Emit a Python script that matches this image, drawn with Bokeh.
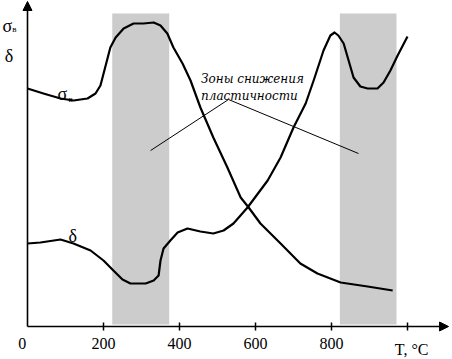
from bokeh.plotting import figure
from bokeh.models import Range1d, Arrow, NormalHead
from bokeh.core.properties import value
from bokeh.embed import file_html
from bokeh.resources import INLINE

# --- data (temperature in °C, properties in relative units) ---
temp_sigma = [0, 42, 87, 121, 158, 179, 192, 205, 218, 232, 253, 279, 305, 332, 350,
              368, 384, 408, 429, 455, 489, 526, 561, 582, 613, 666, 718, 763, 824, 895, 961]
sigma_b = [238, 233, 228, 226, 228, 233, 241, 260, 279, 289, 298, 303, 303, 304, 301,
           293, 279, 263, 246, 219, 189, 159, 129, 119, 103, 83, 63, 53, 44, 40, 36]

temp_delta = [0, 34, 87, 121, 166, 200, 226, 250, 271, 311, 332, 345, 350, 358, 376, 395,
              421, 455, 489, 516, 542, 579, 632, 666, 700, 732, 753, 779, 797, 808, 818,
              832, 845, 858, 876, 895, 921, 937, 955, 974, 1000]
delta = [83, 84, 87, 83, 76, 66, 56, 47, 43, 43, 46, 51, 66, 78, 86, 94,
         98, 95, 93, 96, 103, 119, 146, 169, 199, 223, 246, 276, 291, 294, 291,
         283, 266, 249, 240, 238, 238, 244, 256, 271, 290]

zone_start = [223, 822]
zone_end = [373, 971]

x_ticks = [0, 200, 400, 600, 800, 1000]
x_tick_labels = ["0", "200", "400", "600", "800", ""]

leader_T = [324, 529, 871]
leader_y = [176, 227, 173]

SERIF = value("Liberation Serif")

p = figure(width=452, height=359,
           x_range=Range1d(-71.05, 1118.4), y_range=Range1d(-33, 326),
           x_axis_type=None, y_axis_type=None,
           output_backend="svg", toolbar_location=None, min_border=0)
p.outline_line_color = None
p.background_fill_color = "white"
p.border_fill_color = "white"

# zones of reduced plasticity
p.quad(left=zone_start, right=zone_end, bottom=2, top=313,
       fill_color="#cccccc", line_color=None)

# curves
p.line(temp_sigma, sigma_b, line_width=2.2, color="black", line_join="round")
p.line(temp_delta, delta, line_width=2.2, color="black", line_join="round")

# leader lines of annotation
p.line(leader_T, leader_y, line_width=1, color="black")

# axes with arrows
head = dict(size=9, fill_color="black", line_color="black")
p.add_layout(Arrow(end=NormalHead(**head), x_start=0, y_start=0, x_end=1108, y_end=0,
                   line_width=1.6, line_color="black"))
p.add_layout(Arrow(end=NormalHead(**head), x_start=0, y_start=0, x_end=0, y_end=325,
                   line_width=1.6, line_color="black"))

# ticks
p.segment(x0=x_ticks[1:], y0=-4, x1=x_ticks[1:], y1=4, line_width=1.5, color="black")

# tick labels
p.text(x=x_ticks[1:5], y=-17, text=x_tick_labels[1:5], text_font=SERIF,
       text_font_size="16px", text_align="center", text_baseline="alphabetic",
       text_color="black")
p.text(x=[-14], y=[-17], text=[x_tick_labels[0]], text_font=SERIF,
       text_font_size="16px", text_align="center", text_baseline="alphabetic",
       text_color="black")
p.text(x=[1011], y=[-23], text=["T, °C"], text_font=SERIF,
       text_font_size="16px", text_align="center", text_baseline="alphabetic",
       text_color="black")

# axis symbols
p.text(x=[-66], y=[301], text=["σ"], text_font=SERIF, text_font_size="18px",
       text_baseline="alphabetic", text_color="black")
p.text(x=[-40], y=[298], text=["в"], text_font=SERIF, text_font_size="9px",
       text_baseline="alphabetic", text_color="black")
p.text(x=[-60], y=[271], text=["δ"], text_font=SERIF, text_font_size="18px",
       text_baseline="alphabetic", text_color="black")

# curve labels
p.text(x=[79], y=[233], text=["σ"], text_font=SERIF, text_font_size="18px",
       text_baseline="alphabetic", text_color="black")
p.text(x=[108], y=[228], text=["в"], text_font=SERIF, text_font_size="9px",
       text_baseline="alphabetic", text_color="black")
p.text(x=[108], y=[91], text=["δ"], text_font=SERIF, text_font_size="18px",
       text_baseline="alphabetic", text_color="black")

# annotation
p.text(x=[592, 584], y=[248, 231], text=["Зоны снижения", "пластичности"],
       text_font=value("DejaVu Serif"), text_font_style="italic",
       text_font_size="12px", text_align="center", text_baseline="alphabetic",
       text_color="black")

open("out.html", "w").write(file_html(p, INLINE))
